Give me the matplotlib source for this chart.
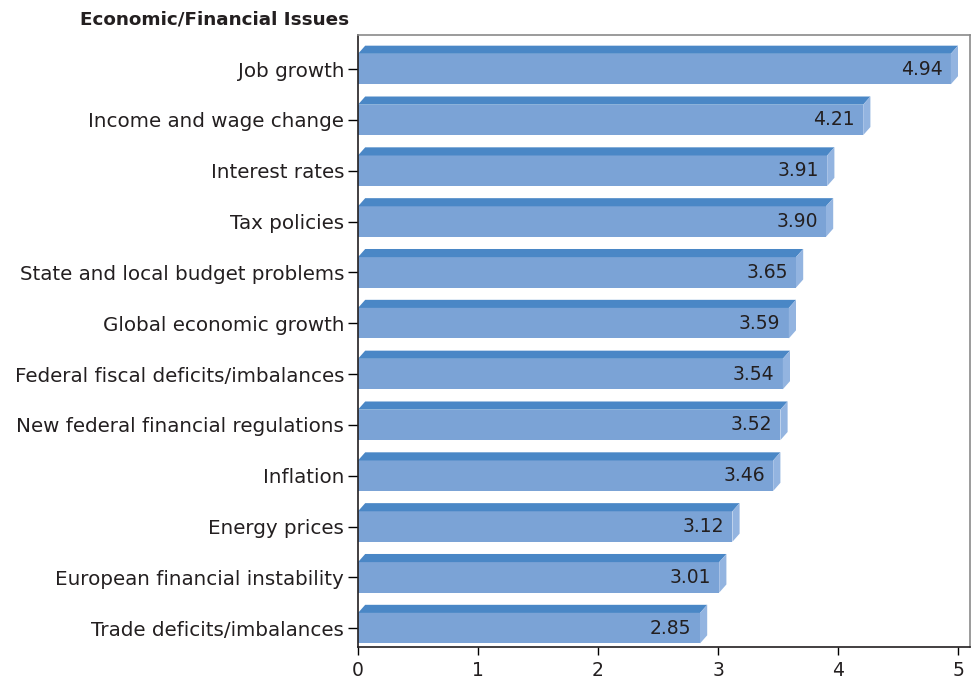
import matplotlib.pyplot as plt
from matplotlib.patches import Polygon, Rectangle

issues = [
    "Job growth",
    "Income and wage change",
    "Interest rates",
    "Tax policies",
    "State and local budget problems",
    "Global economic growth",
    "Federal fiscal deficits/imbalances",
    "New federal financial regulations",
    "Inflation",
    "Energy prices",
    "European financial instability",
    "Trade deficits/imbalances",
]
scores = [4.94, 4.21, 3.91, 3.90, 3.65, 3.59, 3.54, 3.52, 3.46, 3.12, 3.01, 2.85]

plt.rcParams['font.family'] = ['DejaVu Sans']

front_col = '#7BA3D6'
top_col = '#4A87C6'
side_col = '#93B4E0'
ink = '#231F20'

fig = plt.figure(figsize=(9.72, 6.83), dpi=100)
ax = fig.add_axes([358 / 972, 1 - 647 / 683, 612 / 972, 612 / 683])

n = len(issues)
h = 0.3      # half height of front face
dx = 0.06    # depth offset in x
dy = 0.16    # depth offset in y

for i, (name, v) in enumerate(zip(issues, scores)):
    y = n - 1 - i
    ax.add_patch(Rectangle((0, y - h), v, 2 * h, facecolor=front_col,
                           edgecolor='none', zorder=2))
    ax.add_patch(Polygon([(0, y + h), (v, y + h), (v + dx, y + h + dy),
                          (dx, y + h + dy)], closed=True, facecolor=top_col,
                         edgecolor='none', zorder=2))
    ax.add_patch(Polygon([(v, y - h), (v + dx, y - h + dy),
                          (v + dx, y + h + dy), (v, y + h)], closed=True,
                         facecolor=side_col, edgecolor='none', zorder=2))
    ax.text(v - 0.07, y, f"{v:.2f}", ha='right', va='center',
            fontsize=13.5, color=ink, zorder=3)

ax.set_xlim(0, 5.1)
ax.set_ylim(-0.37, n - 1 + 0.67)
ax.set_yticks(range(n))
ax.set_yticklabels(issues[::-1], fontsize=14.3, color=ink)
ax.set_xticks(range(6))
ax.set_xticklabels([str(t) for t in range(6)], fontsize=13.5, color=ink)
ax.tick_params(axis='y', length=7, width=1, pad=3)
ax.tick_params(axis='x', length=6, width=1, pad=4)

for s in ['top', 'right']:
    ax.spines[s].set_color('#8A8A8A')
    ax.spines[s].set_linewidth(1.2)
for s in ['left', 'bottom']:
    ax.spines[s].set_color(ink)
    ax.spines[s].set_linewidth(1.2)

fig.text(349 / 972, 1 - 20 / 683, "Economic/Financial Issues", ha='right',
         va='center', fontsize=13.2, fontweight='bold', color=ink)

fig.savefig('out.png', dpi=100)
